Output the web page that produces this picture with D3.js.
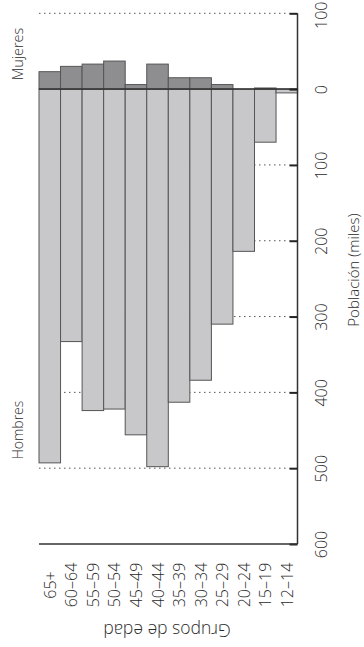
<!DOCTYPE html>
<html>
<head>
<meta charset="utf-8">
<script src="https://cdn.jsdelivr.net/npm/d3@7"></script>
<style>
  html, body { margin: 0; padding: 0; background: #fff; }
  svg { display: block; }
  text { font-family: "Open Sans", "Noto Sans", sans-serif; font-weight: 300; fill: #2a2a2a; }
</style>
</head>
<body>
<script>
const categories = ["65+", "60–64", "55–59", "50–54", "45–49", "40–44", "35–39", "30–34", "25–29", "20–24", "15–19", "12–14"];
const hombres = [493, 333, 424, 422, 456, 498, 413, 384, 310, 214, 70, 5];
const mujeres = [23, 30, 33, 37, 6, 33, 15, 15, 6, 0, 1.5, 0];
const tickValues = [-100, 0, 100, 200, 300, 400, 500, 600];
const gridValues = [-100, 100, 200, 300, 400, 500];

const W = 364, H = 647;
const svg = d3.select("body").append("svg").attr("width", W).attr("height", H);

const x = d3.scaleBand().domain(categories).range([39, 297.6]).padding(0);
const y = d3.scaleLinear().domain([-100, 600]).range([13.3, 544]);
const axisX = 297.5;

// gridlines
svg.append("g").selectAll("line").data(gridValues).join("line")
  .attr("x1", 39).attr("x2", axisX - 8)
  .attr("y1", d => y(d)).attr("y2", d => y(d))
  .attr("stroke", "#555").attr("stroke-width", 1)
  .attr("stroke-dasharray", "1.5,3.5");

// bars: hombres (down)
svg.append("g").selectAll("rect").data(categories).join("rect")
  .attr("x", d => x(d))
  .attr("width", x.bandwidth())
  .attr("y", y(0))
  .attr("height", (d, i) => y(hombres[i]) - y(0))
  .attr("fill", "#c8c8ca")
  .attr("stroke", "#555").attr("stroke-width", 1);

// bars: mujeres (up)
svg.append("g").selectAll("rect").data(categories).join("rect")
  .attr("x", d => x(d))
  .attr("width", x.bandwidth())
  .attr("y", (d, i) => y(-mujeres[i]))
  .attr("height", (d, i) => y(0) - y(-mujeres[i]))
  .attr("fill", "#8e8e91")
  .attr("stroke", "#555").attr("stroke-width", 1);

// zero line
svg.append("line")
  .attr("x1", 39).attr("x2", axisX)
  .attr("y1", y(0)).attr("y2", y(0))
  .attr("stroke", "#333").attr("stroke-width", 1.5);

// right axis (population)
const yAxis = d3.axisRight(y).tickValues(tickValues).tickSize(-8)
  .tickFormat(d => Math.abs(d));
const gy = svg.append("g").attr("transform", `translate(${axisX},0)`).call(yAxis);
gy.select(".domain").attr("stroke", "#333").attr("stroke-width", 1.5)
  .attr("d", `M0,${y(-100)}V${y(600)}`);
gy.selectAll(".tick line").attr("stroke", "#222").attr("stroke-width", 2);
gy.selectAll(".tick text")
  .attr("x", null).attr("dy", null)
  .attr("transform", d => `translate(23,${d === -100 ? 1.5 : 0}) rotate(-90)`)
  .attr("text-anchor", "middle")
  .attr("dominant-baseline", "central")
  .attr("fill", "#2a2a2a")
  .style("font-family", "'Open Sans', 'Noto Sans', sans-serif")
  .style("font-weight", 300)
  .style("font-size", "16px");

// bottom axis line
svg.append("line")
  .attr("x1", 39).attr("x2", axisX)
  .attr("y1", y(600)).attr("y2", y(600))
  .attr("stroke", "#333").attr("stroke-width", 1.5);

// category labels
svg.append("g").selectAll("text").data(categories).join("text")
  .attr("transform", d => `translate(${x(d) + x.bandwidth() / 2},585) rotate(-90)`)
  .attr("text-anchor", "middle")
  .attr("dominant-baseline", "central")
  .style("font-size", "16px")
  .text(d => d);

// axis titles
svg.append("text")
  .attr("transform", "translate(353,270) rotate(-90)")
  .attr("text-anchor", "middle").attr("dominant-baseline", "central")
  .style("font-size", "15px")
  .text("Población (miles)");

svg.append("text")
  .attr("transform", "translate(167,631) rotate(180)")
  .attr("text-anchor", "middle").attr("dominant-baseline", "central")
  .style("font-size", "17.5px")
  .text("Grupos de edad");

// sex labels
svg.append("text")
  .attr("transform", "translate(17,54) rotate(-90)")
  .attr("text-anchor", "middle").attr("dominant-baseline", "central")
  .style("font-size", "14.5px")
  .text("Mujeres");

svg.append("text")
  .attr("transform", "translate(17,430) rotate(-90)")
  .attr("text-anchor", "middle").attr("dominant-baseline", "central")
  .style("font-size", "14px")
  .text("Hombres");
</script>
</body>
</html>
